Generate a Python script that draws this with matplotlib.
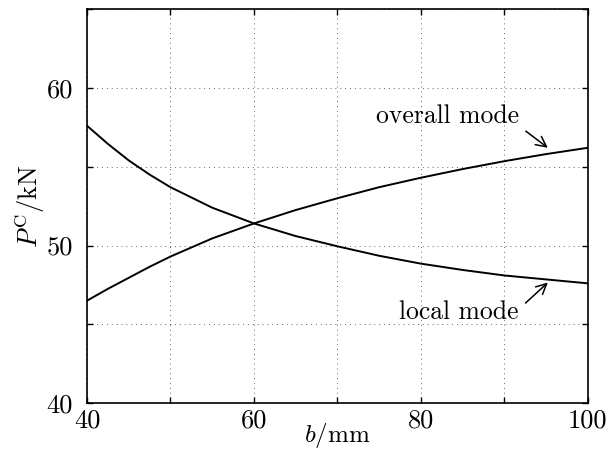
import matplotlib
matplotlib.use("Agg")
import matplotlib.pyplot as plt

# values (b in mm, P^C in kN)
b = [40, 42.5, 45, 47.5, 50, 55, 60, 65, 70, 75, 80, 85, 90, 95, 100]
overall_mode = [46.5, 47.25, 47.95, 48.65, 49.3, 50.45, 51.4, 52.25, 53.0, 53.7,
                54.3, 54.85, 55.35, 55.8, 56.2]
local_mode = [57.6, 56.45, 55.4, 54.5, 53.7, 52.4, 51.4, 50.6, 49.95, 49.35,
              48.85, 48.45, 48.1, 47.85, 47.6]

x_ticks = [40, 50, 60, 70, 80, 90, 100]
x_labels = ['40', '', '60', '', '80', '', '100']
y_ticks = [40, 45, 50, 55, 60, 65]
y_labels = ['40', '', '50', '', '60', '']

plt.rcParams['font.family'] = 'cmr10'
plt.rcParams['mathtext.fontset'] = 'cm'
plt.rcParams['axes.formatter.use_mathtext'] = True

fig = plt.figure(figsize=(6.08, 4.51), dpi=100)
ax = fig.add_axes([0.143, 0.106, 0.824, 0.874])

ax.plot(b, overall_mode, 'k-', lw=1.4)
ax.plot(b, local_mode, 'k-', lw=1.4)

ax.set_xlim(40, 100)
ax.set_ylim(40, 65)
ax.set_xticks(x_ticks)
ax.set_xticklabels(x_labels)
ax.set_yticks(y_ticks)
ax.set_yticklabels(y_labels)
ax.tick_params(direction='in', length=4, width=1.0, top=True, right=True,
               labelsize=19)
ax.tick_params(axis='x', pad=4)
ax.tick_params(axis='y', pad=10)
ax.grid(True, linestyle=(0, (1, 4)), color='k', lw=0.7, alpha=0.6)
for s in ax.spines.values():
    s.set_linewidth(1.2)

ax.set_xlabel(r'$b/\mathrm{mm}$', fontsize=18, labelpad=-8)
ax.set_ylabel(r'$P^{\mathrm{C}}/\mathrm{kN}$', fontsize=19, labelpad=0)

ax.annotate('overall mode', xy=(95.2, 56.2), xytext=(91.7, 58.2),
            fontsize=18.5, ha='right', va='center',
            arrowprops=dict(arrowstyle='->', color='k', lw=1.1,
                            shrinkA=4, shrinkB=0, relpos=(1.0, 0.1)))
ax.annotate('local mode', xy=(95.2, 47.65), xytext=(91.7, 45.8),
            fontsize=18.5, ha='right', va='center',
            arrowprops=dict(arrowstyle='->', color='k', lw=1.1,
                            shrinkA=4, shrinkB=0, relpos=(1.0, 0.6)))

fig.savefig('out.png', dpi=100)
